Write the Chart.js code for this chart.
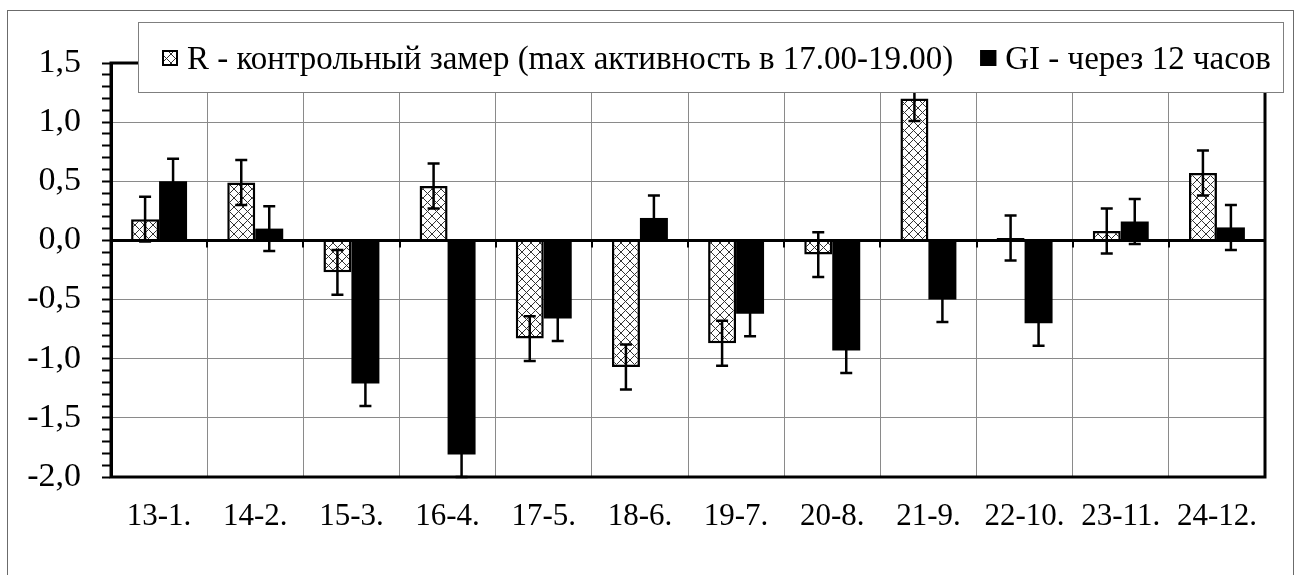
<!DOCTYPE html>
<html>
<head>
<meta charset="utf-8">
<script src="https://cdn.jsdelivr.net/npm/chart.js@4/dist/chart.umd.min.js"></script>
<style>
  html, body { margin: 0; padding: 0; background: #fff; }
  #wrap { width: 1301px; height: 575px; position: relative; }
</style>
</head>
<body>
<div id="wrap"><canvas id="bar-chart"></canvas></div>
<script>
"use strict";

var categories = ["13-1.", "14-2.", "15-3.", "16-4.", "17-5.", "18-6.",
    "19-7.", "20-8.", "21-9.", "22-10.", "23-11.", "24-12."];

var rValues = [0.18, 0.49, -0.27, 0.46, -0.83, -1.07, -0.87, -0.12, 1.20, 0.02, 0.08, 0.57];
var rErrors = [0.19, 0.19, 0.19, 0.19, 0.19, 0.19, 0.19, 0.19, 0.19, 0.19, 0.19, 0.19];

var giValues = [0.50, 0.10, -1.21, -1.81, -0.66, 0.19, -0.62, -0.93, -0.50, -0.70, 0.16, 0.11];
var giErrors = [0.19, 0.19, 0.19, 0.19, 0.19, 0.19, 0.19, 0.19, 0.19, 0.19, 0.19, 0.19];

var yTickLabels = ["-2,0", "-1,5", "-1,0", "-0,5", "0,0", "0,5", "1,0", "1,5"];

var seriesLabels = [
    "R - контрольный замер (max активность в 17.00-19.00)",
    "GI - через 12 часов",
];

var FONT = "'Liberation Serif', 'Times New Roman', serif";

// crosshatch fill for the R series
function makeHatch() {
    var c = document.createElement("canvas");
    c.width = 9;
    c.height = 9;
    var g = c.getContext("2d");
    g.fillStyle = "#fff";
    g.fillRect(0, 0, 9, 9);
    g.strokeStyle = "#333";
    g.lineWidth = 1;
    g.beginPath();
    g.moveTo(0, 0); g.lineTo(9, 9);
    g.moveTo(9, 0); g.lineTo(0, 9);
    g.stroke();
    return g.createPattern(c, "repeat");
}
var hatch = makeHatch();

function isHalfStep(v) {
    return Math.abs(v * 2 - Math.round(v * 2)) < 1e-6;
}

var errorsBySeries = [rErrors, giErrors];

var outerFrame = {
    id: "outerFrame",
    beforeDraw: function (chart) {
        var c = chart.ctx;
        c.save();
        c.strokeStyle = "#6b6b6b";
        c.lineWidth = 1;
        c.strokeRect(7.5, 10.5, 1286, 600);
        c.restore();
    },
};

var plotDecor = {
    id: "plotDecor",
    afterDatasetsDraw: function (chart) {
        var c = chart.ctx;
        var a = chart.chartArea;
        var ys = chart.scales.y;
        var y0 = ys.getPixelForValue(0);
        c.save();
        // zero axis line and its tick marks
        c.strokeStyle = "#000";
        c.lineWidth = 3;
        c.beginPath();
        c.moveTo(a.left, y0);
        c.lineTo(a.right, y0);
        c.stroke();
        c.lineWidth = 2;
        var step = (a.right - a.left) / categories.length;
        c.beginPath();
        for (var k = 1; k < categories.length; k++) {
            var tx = Math.round(a.left + step * k);
            c.moveTo(tx, y0);
            c.lineTo(tx, y0 + 7);
        }
        c.stroke();
        // error bars
        c.lineWidth = 2.5;
        chart.data.datasets.forEach(function (ds, i) {
            var meta = chart.getDatasetMeta(i);
            var errs = errorsBySeries[i];
            meta.data.forEach(function (bar, j) {
                var v = ds.data[j];
                var top = ys.getPixelForValue(v + errs[j]);
                var bot = ys.getPixelForValue(v - errs[j]);
                c.beginPath();
                c.moveTo(bar.x, top);
                c.lineTo(bar.x, bot);
                c.moveTo(bar.x - 6, top);
                c.lineTo(bar.x + 6, top);
                c.moveTo(bar.x - 6, bot);
                c.lineTo(bar.x + 6, bot);
                c.stroke();
            });
        });
        // plot frame
        c.lineWidth = 3;
        c.strokeRect(a.left, a.top, a.right - a.left, a.bottom - a.top);
        c.restore();
    },
};

var boxLegend = {
    id: "boxLegend",
    afterDraw: function (chart) {
        var c = chart.ctx;
        c.save();
        c.fillStyle = "#fff";
        c.fillRect(138, 22, 1145, 70);
        c.strokeStyle = "#7f7f7f";
        c.lineWidth = 1;
        c.strokeRect(138.5, 22.5, 1145, 70);
        c.font = "33px " + FONT;
        c.textBaseline = "alphabetic";
        var x = 162;
        chart.data.datasets.forEach(function (ds, i) {
            c.fillStyle = ds.backgroundColor;
            c.fillRect(x, 50, 16, 16);
            c.strokeStyle = "#000";
            c.lineWidth = 2;
            c.strokeRect(x + 1, 51, 14, 14);
            c.fillStyle = "#000";
            c.fillText(ds.label, x + 25, 69);
            x += 25 + c.measureText(ds.label).width + 27;
        });
        c.restore();
    },
};

var ctx = document.getElementById("bar-chart").getContext("2d");

new Chart(ctx, {
    type: "bar",
    data: {
        labels: categories,
        datasets: [
            {
                label: seriesLabels[0],
                data: rValues,
                backgroundColor: hatch,
                borderColor: "#000",
                borderWidth: 2.5,
            },
            {
                label: seriesLabels[1],
                data: giValues,
                backgroundColor: "#000",
                borderColor: "#000",
                borderWidth: 0,
            },
        ],
    },
    options: {
        responsive: true,
        maintainAspectRatio: false,
        animation: false,
        categoryPercentage: 0.582,
        barPercentage: 1.0,
        layout: {
            padding: { left: 0, top: 63, right: 36, bottom: 0 },
        },
        scales: {
            x: {
                grid: {
                    offset: true,
                    color: "#8a8a8a",
                    lineWidth: 1,
                    drawTicks: false,
                },
                border: { display: false },
                ticks: {
                    color: "#000",
                    padding: 21,
                    font: { family: FONT, size: 31 },
                },
                afterFit: function (scale) {
                    scale.height = 98;
                },
            },
            y: {
                min: -2,
                max: 1.5,
                afterBuildTicks: function (scale) {
                    // ticks every 0.1, labels only every 0.5
                    var t = [];
                    for (var k = -20; k <= 15; k++) {
                        t.push({ value: k / 10 });
                    }
                    scale.ticks = t;
                },
                grid: {
                    color: function (c) {
                        var v = c.tick ? c.tick.value : 0;
                        if (Math.abs(v) < 1e-6) return "rgba(0,0,0,0)";
                        return isHalfStep(v) ? "#8a8a8a" : "rgba(0,0,0,0)";
                    },
                    lineWidth: 1,
                    tickColor: "#000",
                    tickWidth: 2,
                    tickLength: 9,
                },
                border: { color: "#000", width: 3 },
                ticks: {
                    autoSkip: false,
                    color: "#000",
                    padding: 21,
                    font: { family: FONT, size: 34 },
                    callback: function (v) {
                        if (!isHalfStep(v)) return "";
                        return yTickLabels[Math.round((v + 2) * 2)];
                    },
                },
                afterFit: function (scale) {
                    scale.width = 111;
                },
            },
        },
        plugins: {
            legend: { display: false },
            tooltip: { enabled: false },
        },
    },
    plugins: [outerFrame, plotDecor, boxLegend],
});
</script>
</body>
</html>
